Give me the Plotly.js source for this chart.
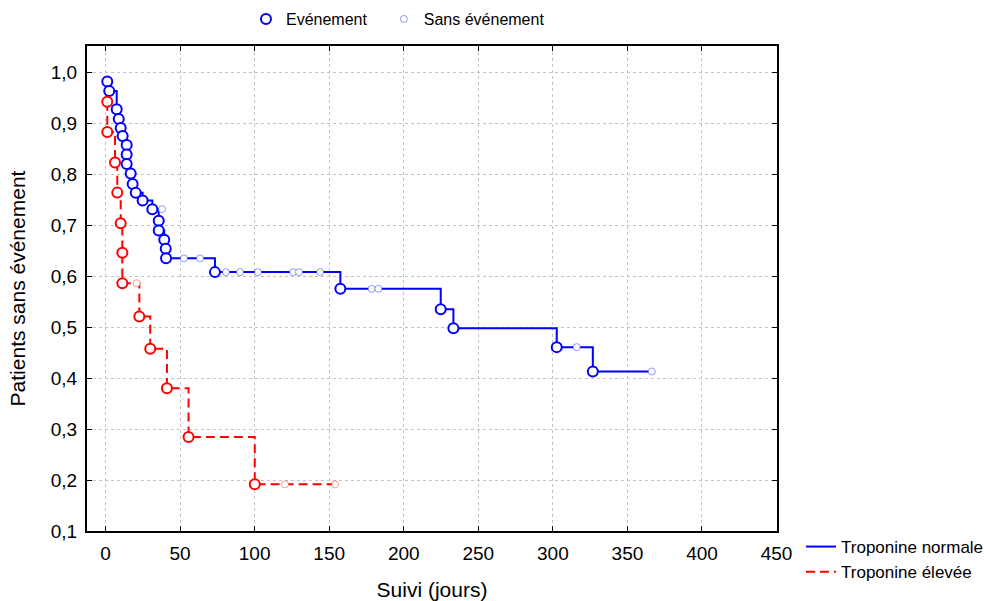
<!DOCTYPE html>
<html>
<head>
<meta charset="utf-8">
<script src="https://cdn.plot.ly/plotly-3.0.1.min.js"></script>
<style>html,body{margin:0;padding:0;background:#fff;}#chart{width:984px;height:601px;}</style>
</head>
<body>
<div id="chart"></div>
<script>
// ---- Data ----
// Troponine normale: event times / survival
var normalEventX = [1.2, 2.5, 7.5, 8.9, 10.2, 11.5, 14.2, 14.2, 14.2, 16.9, 18.2, 20.3, 24.9, 31.4, 35.7, 35.7, 39.4, 40.4, 40.6, 73.4, 157.5, 224.8, 233.3, 302.6, 326.8];
var normalEventY = [0.982, 0.9635, 0.9275, 0.9086, 0.891, 0.875, 0.8576, 0.8386, 0.820, 0.8014, 0.781, 0.7635, 0.7484, 0.7314, 0.709, 0.6896, 0.6714, 0.6537, 0.635, 0.608, 0.5753, 0.5353, 0.498, 0.4608, 0.413];
// Troponine normale: censored times / survival
var normalCensorX = [37.9, 52.6, 63.4, 80.8, 90.2, 102.3, 125.8, 129.8, 143.9, 178.5, 183.0, 316.0, 366.3];
var normalCensorY = [0.7314, 0.635, 0.635, 0.608, 0.608, 0.608, 0.608, 0.608, 0.608, 0.5753, 0.5753, 0.4608, 0.413];

// Troponine élevée: event times / survival
var highEventX = [1.2, 1.2, 6.4, 7.9, 10.2, 11.3, 11.3, 22.7, 30.0, 41.2, 55.7, 100.1];
var highEventY = [0.9425, 0.883, 0.8233, 0.764, 0.704, 0.646, 0.5863, 0.521, 0.4576, 0.380, 0.2843, 0.1916];
// Troponine élevée: censored times / survival
var highCensorX = [20.9, 120.4, 154.0];
var highCensorY = [0.5863, 0.1916, 0.1916];

var xTicks = [0, 50, 100, 150, 200, 250, 300, 350, 400, 450];
var yTicks = [0.1, 0.2, 0.3, 0.4, 0.5, 0.6, 0.7, 0.8, 0.9, 1.0];

var seriesNames = ['Troponine normale', 'Troponine élevée'];
var markerNames = ['Evénement', 'Sans événement'];

// step-line built from the events, extended to the last censored time
function stepLine(ex, ey, cx) {
  var x = ex.slice();
  var y = ey.slice();
  var lastC = cx[cx.length - 1];
  if (lastC > x[x.length - 1]) { x.push(lastC); y.push(y[y.length - 1]); }
  return {x: x, y: y};
}

var nLine = stepLine(normalEventX, normalEventY, normalCensorX);
var hLine = stepLine(highEventX, highEventY, highCensorX);

var BLUE = '#0000ff', RED = '#ff0000';
var font = 'Liberation Sans, Arial, sans-serif';

var traces = [
  {x: nLine.x, y: nLine.y, mode: 'lines', line: {shape: 'hv', color: BLUE, width: 2},
   name: seriesNames[0], legend: 'legend2', hoverinfo: 'skip'},
  {x: hLine.x, y: hLine.y, mode: 'lines', line: {shape: 'hv', color: RED, width: 2, dash: '9px,5px'},
   name: seriesNames[1], legend: 'legend2', hoverinfo: 'skip'},
  {x: normalCensorX, y: normalCensorY, mode: 'markers', name: markerNames[1], legend: 'legend3',
   marker: {symbol: 'circle', size: 7, color: '#ffffff', line: {color: 'rgba(0,0,255,0.4)', width: 1}}},
  {x: highCensorX, y: highCensorY, mode: 'markers', showlegend: false,
   marker: {symbol: 'circle', size: 7, color: '#ffffff', line: {color: 'rgba(255,0,0,0.4)', width: 1}}},
  {x: normalEventX, y: normalEventY, mode: 'markers', name: markerNames[0], legend: 'legend',
   marker: {symbol: 'circle', size: 10, color: '#ffffff', line: {color: BLUE, width: 2}}},
  {x: highEventX, y: highEventY, mode: 'markers', showlegend: false,
   marker: {symbol: 'circle', size: 10, color: '#ffffff', line: {color: RED, width: 2}}}
];

var axisCommon = {
  showline: true, linecolor: '#000', linewidth: 2, mirror: 'allticks',
  ticks: 'inside', ticklen: 5, tickwidth: 1, tickcolor: '#000',
  showgrid: true, gridcolor: '#c4c4c4', griddash: 'dot', gridwidth: 1,
  zeroline: false, tickfont: {family: font, size: 19, color: '#000'}
};

var legendCommon = {xanchor: 'left', yanchor: 'top', bgcolor: 'rgba(0,0,0,0)'};

var layout = {
  width: 984, height: 601,
  margin: {l: 87, r: 207, t: 46, b: 70, autoexpand: false},
  paper_bgcolor: '#fff', plot_bgcolor: '#fff',
  separators: ', ',
  font: {family: font, color: '#000'},
  xaxis: Object.assign({}, axisCommon, {
    range: [-12.4, 450.3], tickvals: xTicks, ticklabelstandoff: 4,
    title: {text: 'Suivi (jours)', font: {family: font, size: 21}, standoff: 24}
  }),
  yaxis: Object.assign({}, axisCommon, {
    range: [0.1, 1.0517], tickvals: yTicks, tickformat: '.1f', ticklabelstandoff: 4,
    title: {text: 'Patients sans événement', font: {family: font, size: 21}, standoff: 19}
  }),
  showlegend: true,
  legend: Object.assign({}, legendCommon, {x: 0.2304, y: 1.0907, font: {family: font, size: 16}}),
  legend3: Object.assign({}, legendCommon, {x: 0.4301, y: 1.0907, font: {family: font, size: 16}}),
  legend2: Object.assign({}, legendCommon, {x: 1.0348, y: 0.0041, font: {family: font, size: 17},
            tracegroupgap: 0})
};

Plotly.newPlot('chart', traces, layout, {staticPlot: true});
</script>
</body>
</html>
